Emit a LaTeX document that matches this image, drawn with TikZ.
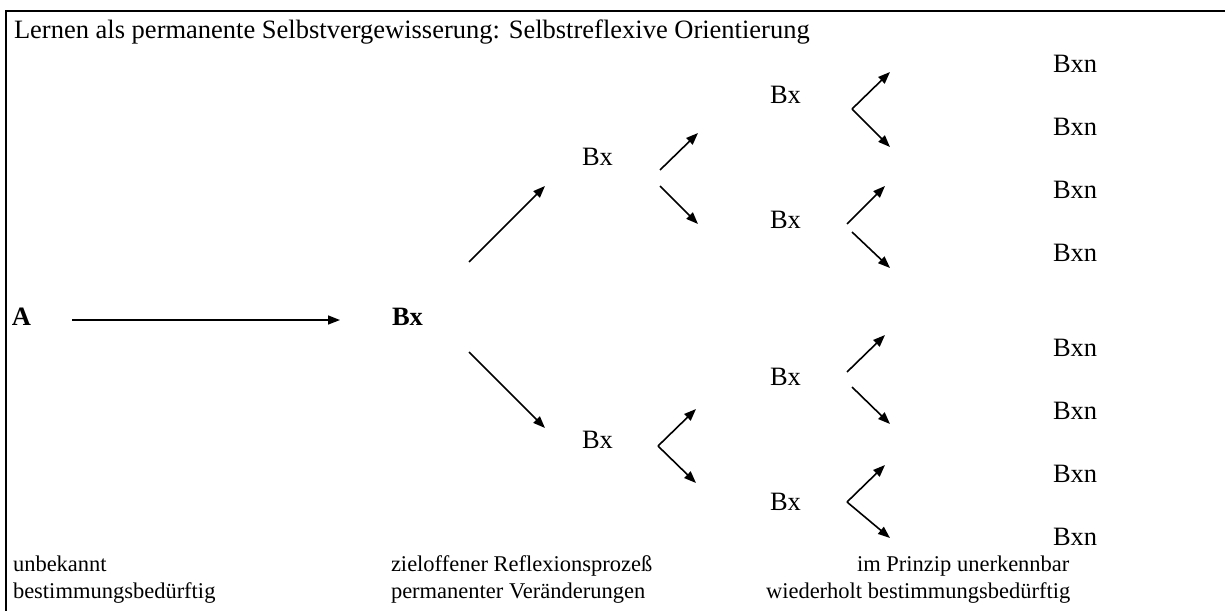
\documentclass[tikz,border=0pt]{standalone}
\usepackage{fontspec}
\setmainfont{Liberation Serif}
\usetikzlibrary{arrows.meta}
\tikzset{
  lbl/.style={inner sep=0pt, outer sep=0pt, anchor=base west, font=\fontsize{26.5}{32}\selectfont},
  slbl/.style={lbl, font=\fontsize{22.5}{27}\selectfont},
  blbl/.style={lbl, font=\fontsize{26.5}{32}\selectfont\bfseries},
  arr/.style={line width=1.6pt, -{Triangle[length=12pt,width=9pt]}},
  frame/.style={line width=2.2pt}
}
\begin{document}
\begin{tikzpicture}[x=1pt,y=-1pt]
\useasboundingbox (0,0) rectangle (1225,610);
% frame
\coordinate (fbl) at (6,611);
\coordinate (ftl) at (6,11);
\coordinate (ftr) at (1226,11);
\draw[frame] (fbl) -- (ftl) -- (ftr);
% title
\node[lbl] (title) at (14,39) {Lernen als permanente Selbstvergewisserung: Selbstreflexive Orientierung};
% main nodes
\node[blbl] (A) at (12,325) {A};
\node[blbl] (B0) at (392,325) {Bx};
% level 1
\node[lbl] (B1u) at (582,165) {Bx};
\node[lbl] (B1l) at (582,448) {Bx};
% level 2
\node[lbl] (B2a) at (770,103) {Bx};
\node[lbl] (B2b) at (770,228) {Bx};
\node[lbl] (B2c) at (770,385) {Bx};
\node[lbl] (B2d) at (770,510) {Bx};
% level 3
\node[lbl] (n1) at (1053,72) {Bxn};
\node[lbl] (n2) at (1053,135) {Bxn};
\node[lbl] (n3) at (1053,198) {Bxn};
\node[lbl] (n4) at (1053,261) {Bxn};
\node[lbl] (n5) at (1053,356) {Bxn};
\node[lbl] (n6) at (1053,419) {Bxn};
\node[lbl] (n7) at (1053,482) {Bxn};
\node[lbl] (n8) at (1053,545) {Bxn};
% bottom texts
\node[slbl] (t1) at (13,571) {unbekannt};
\node[slbl] (t2) at (13,598) {bestimmungsbedürftig};
\node[slbl] (t3) at (391,571) {zieloffener Reflexionsprozeß};
\node[slbl] (t4) at (391,598) {permanenter Veränderungen};
\node[slbl] (t5) at (857,571) {im Prinzip unerkennbar};
\node[slbl] (t6) at (766,598) {wiederholt bestimmungsbedürftig};
% arrow coordinates
\coordinate (a0s) at (72,320);   \coordinate (a0e) at (340,320);
\coordinate (bus) at (469,262);  \coordinate (bue) at (545,186);
\coordinate (bds) at (469,352);  \coordinate (bde) at (545,428);
\coordinate (c1s) at (660,170);  \coordinate (c1e) at (698,133);
\coordinate (c2s) at (660,186);  \coordinate (c2e) at (698,224);
\coordinate (c3v) at (658,446);  \coordinate (c3u) at (696,409); \coordinate (c3d) at (696,483);
\coordinate (d1v) at (852,109);  \coordinate (d1u) at (890,72);  \coordinate (d1d) at (890,147);
\coordinate (d2s) at (847,224);  \coordinate (d2e) at (885,186);
\coordinate (d3s) at (852,232);  \coordinate (d3e) at (890,268);
\coordinate (d4s) at (847,372);  \coordinate (d4e) at (885,335);
\coordinate (d5s) at (852,387);  \coordinate (d5e) at (890,424);
\coordinate (d6v) at (847,502);  \coordinate (d6u) at (885,465); \coordinate (d6d) at (890,538);
% arrows
\draw[arr] (a0s) -- (a0e);
\draw[arr] (bus) -- (bue);
\draw[arr] (bds) -- (bde);
\draw[arr] (c1s) -- (c1e);
\draw[arr] (c2s) -- (c2e);
\draw[arr] (c3v) -- (c3u);
\draw[arr] (c3v) -- (c3d);
\draw[arr] (d1v) -- (d1u);
\draw[arr] (d1v) -- (d1d);
\draw[arr] (d2s) -- (d2e);
\draw[arr] (d3s) -- (d3e);
\draw[arr] (d4s) -- (d4e);
\draw[arr] (d5s) -- (d5e);
\draw[arr] (d6v) -- (d6u);
\draw[arr] (d6v) -- (d6d);
\end{tikzpicture}
\end{document}
